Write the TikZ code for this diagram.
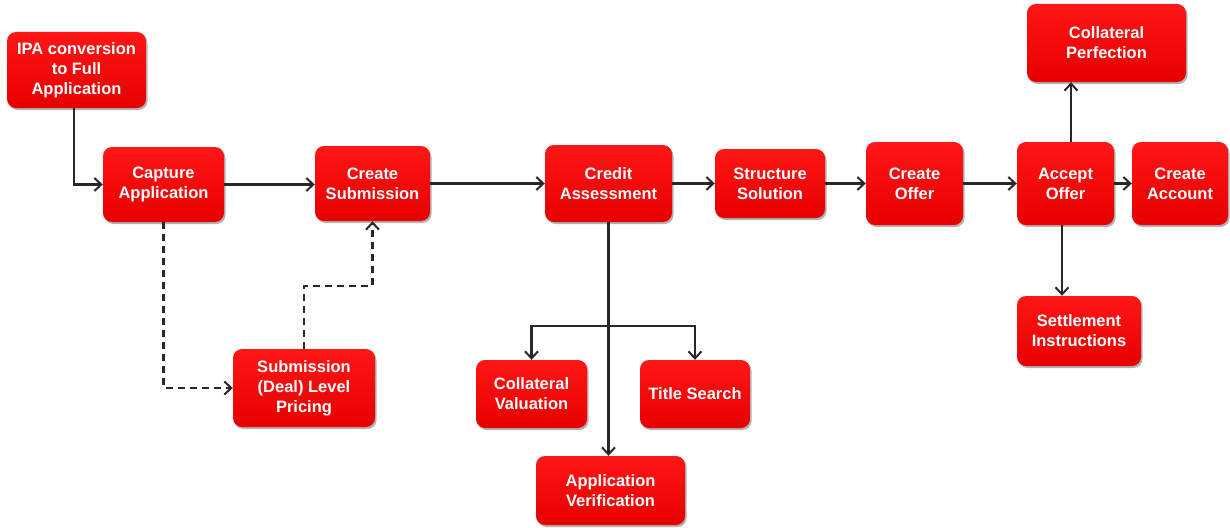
\documentclass[tikz,border=0pt]{standalone}
\usepackage{fontspec}
\setmainfont{Liberation Sans}
\usetikzlibrary{arrows.meta,shadows}
\definecolor{boxtop}{RGB}{255,22,22}
\definecolor{boxbot}{RGB}{230,0,0}
\definecolor{linegray}{RGB}{40,40,40}
\tikzset{
  procbox/.style={rounded corners=9pt, top color=boxtop, bottom color=boxbot,
    draw=none, text=white, align=center, inner sep=2pt,
    font=\fontsize{16.5}{20}\selectfont\bfseries,
    drop shadow={shadow xshift=1.5pt, shadow yshift=-2pt, opacity=0.3, fill=black}},
  conn/.style={draw=linegray, line width=2.3pt,
    -{Straight Barb[length=7pt,width=13pt,line width=2pt]}},
  dconn/.style={conn, dash pattern=on 7pt off 5pt}
}
\begin{document}
\begin{tikzpicture}[x=1pt,y=-1pt]
\useasboundingbox (0,0) rectangle (1230,527);
% nodes
\node[procbox, minimum width=139pt, minimum height=76pt] (ipa) at (76.5,70) {IPA conversion\\to Full\\Application};
\node[procbox, minimum width=121pt, minimum height=75pt] (cap) at (163.5,184.5) {Capture\\Application};
\node[procbox, minimum width=115pt, minimum height=75pt] (sub) at (372.5,183.5) {Create\\Submission};
\node[procbox, minimum width=127pt, minimum height=77pt] (cred) at (608.5,183.5) {Credit\\Assessment};
\node[procbox, minimum width=110pt, minimum height=69pt] (str) at (770,183.5) {Structure\\Solution};
\node[procbox, minimum width=97pt, minimum height=83pt] (off) at (914.5,183.5) {Create\\Offer};
\node[procbox, minimum width=97pt, minimum height=83pt] (acc) at (1065.5,183.5) {Accept\\Offer};
\node[procbox, minimum width=96pt, minimum height=83pt] (acct) at (1180,183.5) {Create\\Account};
\node[procbox, minimum width=159pt, minimum height=78pt] (perf) at (1106.5,43) {Collateral\\Perfection};
\node[procbox, minimum width=124pt, minimum height=70pt] (set) at (1079,331) {Settlement\\Instructions};
\node[procbox, minimum width=142pt, minimum height=78pt] (prc) at (304,388) {Submission\\(Deal) Level\\Pricing};
\node[procbox, minimum width=111pt, minimum height=68pt] (cv) at (531.5,394) {Collateral\\Valuation};
\node[procbox, minimum width=110pt, minimum height=68pt] (ts) at (695,394) {Title Search};
\node[procbox, minimum width=149pt, minimum height=69pt] (av) at (610.5,490.5) {Application\\Verification};
% helper coordinates
\coordinate (br) at (609,326);
\coordinate (dm) at (340,286);
% connectors
\draw[conn] ([xshift=-2.5pt]ipa.south) |- (cap.west);
\draw[conn] (cap.east) -- (cap.east -| sub.west);
\draw[conn] (sub.east) -- (sub.east -| cred.west);
\draw[conn] (cred.east) -- (cred.east -| str.west);
\draw[conn] (str.east) -- (str.east -| off.west);
\draw[conn] (off.east) -- (off.east -| acc.west);
\draw[conn] (acc.east) -- (acc.east -| acct.west);
\draw[conn] ([xshift=5.5pt]acc.north) -- ([xshift=5.5pt]acc.north |- perf.south);
\draw[conn] ([xshift=-3.5pt]acc.south) -- ([xshift=-3.5pt]acc.south |- set.north);
\draw[conn] (cred.south) -- (cred.south |- av.north);
\draw[conn] (br) -| (cv.north);
\draw[conn] (br) -| (ts.north);
\draw[dconn] (cap.south) |- (prc.west);
\draw[dconn] (prc.north) |- (dm) -| (sub.south);
\end{tikzpicture}
\end{document}
